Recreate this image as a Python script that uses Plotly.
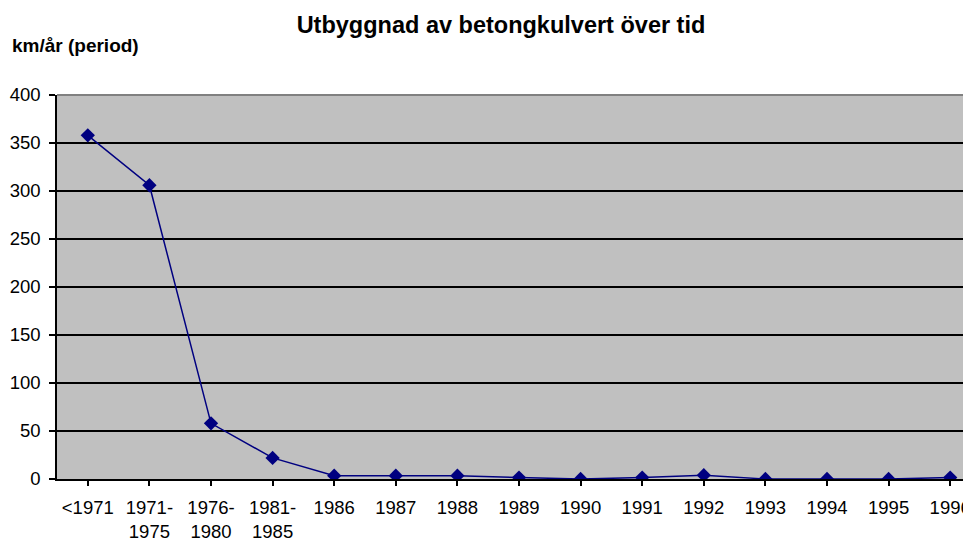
import plotly.graph_objects as go

categories = ["<1971", "1971-<br>1975", "1976-<br>1980", "1981-<br>1985", "1986", "1987",
              "1988", "1989", "1990", "1991", "1992", "1993", "1994", "1995", "1996"]
values = [358, 306, 58, 22, 3.5, 3.5, 3.5, 1.5, 0, 1.5, 4, 0, 0, 0, 1.5]
y_ticks = [0, 50, 100, 150, 200, 250, 300, 350, 400]

title_text = "Utbyggnad av betongkulvert över tid"
y_title = "km/år (period)"

FONT = "Liberation Sans, Arial, sans-serif"

# page body has an 8px default margin; the plot area runs past the right window edge
FIG_W, FIG_H = 975, 535

fig = go.Figure()
fig.add_trace(go.Scatter(
    x=list(range(len(categories))), y=values, mode="lines+markers",
    line=dict(color="#000080", width=1.5),
    marker=dict(symbol="diamond", size=11, color="#000080"),
    showlegend=False, hoverinfo="skip",
))

fig.update_layout(
    width=FIG_W, height=FIG_H,
    margin=dict(l=49, r=2, t=87, b=64),
    paper_bgcolor="white", plot_bgcolor="#C0C0C0",
    font=dict(family=FONT, size=18.5, color="black"),
    title=dict(text="<b>" + title_text + "</b>", xref="container", x=493 / FIG_W,
               xanchor="center", yref="container", y=1 - 17 / FIG_H, yanchor="middle",
               font=dict(size=23.5, family=FONT)),
    annotations=[dict(text="<b>" + y_title + "</b>", xref="paper", yref="paper",
                      x=0, y=1, xshift=-47, yshift=50, xanchor="left", yanchor="middle",
                      showarrow=False, font=dict(size=19, family=FONT))],
    shapes=[dict(type="line", xref="paper", yref="paper", x0=0, x1=1, y0=1, y1=1,
                 line=dict(color="#808080", width=2))],
)

fig.update_xaxes(
    range=[-0.5, len(categories) - 0.5],
    tickmode="array", tickvals=list(range(len(categories))), ticktext=categories,
    showgrid=False, zeroline=False,
    showline=True, linecolor="black", linewidth=1.5,
    ticks="outside", ticklen=5, tickcolor="black", tickwidth=1.5,
    tickangle=0, tickfont=dict(size=18.5), ticklabelstandoff=6,
)
fig.update_xaxes(tickson="boundaries")

fig.update_yaxes(
    range=[0, 400], tickmode="array", tickvals=y_ticks,
    showgrid=True, gridcolor="black", gridwidth=1.5,
    zeroline=False, showline=True, linecolor="black", linewidth=1.5,
    ticks="outside", ticklen=6, tickcolor="black", tickwidth=1.5,
    tickfont=dict(size=18.5), ticklabelstandoff=5,
)

fig.write_html("out.html", post_script="document.body.style.overflow='hidden';")
